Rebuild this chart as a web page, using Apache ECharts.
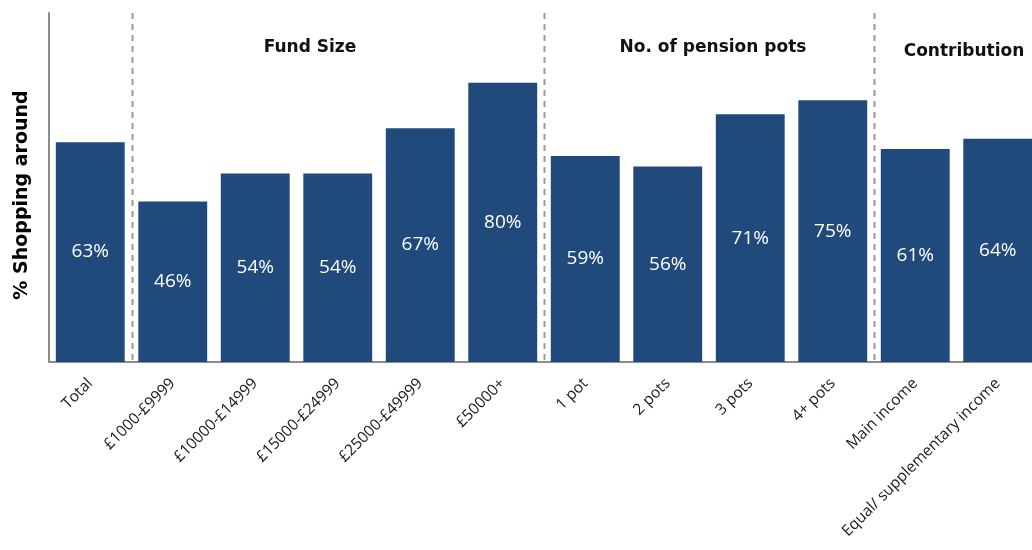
<!DOCTYPE html>
<html>
<head>
<meta charset="utf-8">
<script src="https://cdn.jsdelivr.net/npm/echarts@6/dist/echarts.min.js"></script>
<style>
  html, body { margin: 0; padding: 0; background: #fff; overflow: hidden; }
  /* the last column runs a few pixels past the right edge of the page */
  #chart { width: 1039px; height: 550px; }
</style>
</head>
<body>
<div id="chart"></div>
<script>
// Share of savers shopping around, by group
const categories = [
  'Total',
  '£1000-£9999', '£10000-£14999', '£15000-£24999', '£25000-£49999', '£50000+',
  '1 pot', '2 pots', '3 pots', '4+ pots',
  'Main income', 'Equal/ supplementary income'
];
const shoppingAround = [63, 46, 54, 54, 67, 80, 59, 56, 71, 75, 61, 64];

// Group headings and the index of the last category before each divider
const groupTitles = ['Fund Size', 'No. of pension pots', 'Contribution'];
const dividerAfter = [0, 5, 9];
const axisTitle = '% Shopping around';

const BAR = '#214a7c';
const chart = echarts.init(document.getElementById('chart'));

chart.setOption({
  animation: false,
  grid: { left: 49, right: 0, top: 13, bottom: 188, containLabel: false },
  xAxis: {
    type: 'category',
    data: categories,
    axisLine: { lineStyle: { color: '#8c8c8c', width: 2 } },
    axisTick: { show: false },
    axisLabel: {
      rotate: 45,
      interval: 0,
      margin: 19,
      color: '#1a1a1a',
      fontFamily: 'Open Sans',
      fontSize: 15.5
    }
  },
  yAxis: {
    type: 'value',
    min: 0,
    max: 100,
    axisLine: { show: true, lineStyle: { color: '#8c8c8c', width: 2 } },
    axisTick: { show: false },
    axisLabel: { show: false },
    splitLine: { show: false }
  },
  series: [{
    type: 'bar',
    data: shoppingAround,
    barCategoryGap: '16.5%',
    itemStyle: { color: BAR },
    label: {
      show: true,
      position: 'inside',
      formatter: '{c}%',
      color: '#fff',
      fontFamily: 'Open Sans',
      fontSize: 19
    }
  }]
});

// Dashed dividers between groups, group headings and the value-axis title
const yTop = chart.convertToPixel({ yAxisIndex: 0 }, 100);
const yBase = chart.convertToPixel({ yAxisIndex: 0 }, 0);
const gfx = dividerAfter.map(function (i) {
  const a = chart.convertToPixel({ xAxisIndex: 0 }, i);
  const b = chart.convertToPixel({ xAxisIndex: 0 }, i + 1);
  const x = Math.round((a + b) / 2) + 0.5;
  return {
    type: 'line',
    shape: { x1: x, y1: yTop, x2: x, y2: yBase - 1 },
    style: { stroke: '#999', lineWidth: 2, lineDash: [6, 5] },
    z: 1
  };
});
const titlePos = [[310, 48], [713, 48], [964, 52]];
groupTitles.forEach(function (t, k) {
  gfx.push({
    type: 'text',
    x: titlePos[k][0],
    y: titlePos[k][1],
    style: {
      text: t,
      fill: '#111',
      font: 'bold 17px "DejaVu Sans"',
      textAlign: 'center',
      textVerticalAlign: 'middle'
    },
    z: 10
  });
});
gfx.push({
  type: 'text',
  x: 22,
  y: 195,
  rotation: Math.PI / 2,
  style: {
    text: axisTitle,
    fill: '#000',
    font: 'bold 19px "DejaVu Sans"',
    textAlign: 'center',
    textVerticalAlign: 'middle'
  }
});
chart.setOption({ graphic: gfx });
</script>
</body>
</html>
